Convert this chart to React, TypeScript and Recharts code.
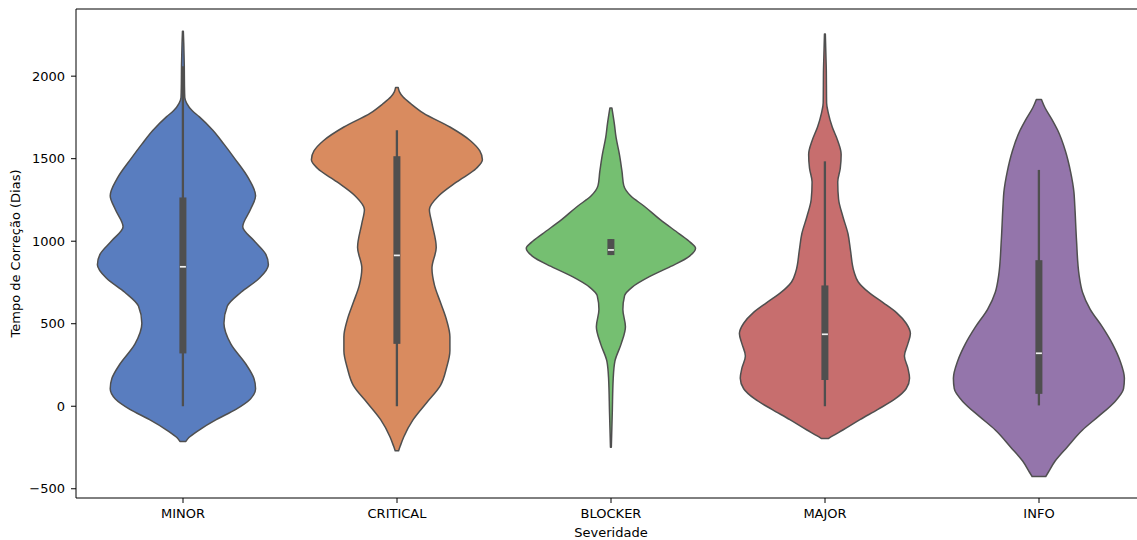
import { Bar, ComposedChart, ReferenceLine, XAxis, YAxis } from "recharts";

const categories = ["MINOR", "CRITICAL", "BLOCKER", "MAJOR", "INFO"];

// density outline of each violin, top to bottom: [days, half-width relative to 0.4 band]
const minorProfile: [number, number][] = [
  [2272, 0.005], [2200, 0.01], [2068, 0.016], [1950, 0.018], [1870, 0.022], [1835, 0.045],
  [1790, 0.11], [1755, 0.19], [1672, 0.35], [1588, 0.48], [1505, 0.6], [1379, 0.77], [1275, 0.85],
  [1192, 0.79], [1087, 0.7], [1004, 0.83], [920, 0.97], [858, 1.0], [774, 0.89],
  [691, 0.68], [607, 0.52], [503, 0.48], [378, 0.56], [253, 0.74], [169, 0.83],
  [106, 0.85], [44, 0.79], [-19, 0.62], [-81, 0.39], [-144, 0.19], [-190, 0.07], [-213, 0.035],
];
const criticalProfile: [number, number][] = [
  [1932, 0.015], [1905, 0.03], [1875, 0.07], [1830, 0.17], [1776, 0.31], [1692, 0.62],
  [1609, 0.86], [1547, 0.97], [1494, 1.0], [1442, 0.93], [1359, 0.7], [1275, 0.49],
  [1192, 0.38], [1108, 0.41], [962, 0.46], [837, 0.41], [732, 0.44], [628, 0.51],
  [524, 0.58], [420, 0.62], [336, 0.62], [232, 0.58], [127, 0.51], [23, 0.35],
  [-81, 0.19], [-186, 0.08], [-240, 0.04], [-270, 0.02],
];
const blockerProfile: [number, number][] = [
  [1807, 0.012], [1713, 0.04], [1630, 0.06], [1525, 0.1], [1421, 0.13], [1338, 0.15],
  [1275, 0.23], [1212, 0.39], [1129, 0.58], [1045, 0.8], [993, 0.93], [958, 0.99],
  [910, 0.92], [847, 0.7], [785, 0.45], [722, 0.25], [670, 0.16], [586, 0.14],
  [482, 0.17], [378, 0.12], [273, 0.047], [169, 0.027], [-40, 0.016], [-248, 0.005],
];
const majorProfile: [number, number][] = [
  [2256, 0.005], [2047, 0.016], [1838, 0.02], [1776, 0.04], [1692, 0.086], [1609, 0.15],
  [1526, 0.19], [1442, 0.18], [1359, 0.15], [1254, 0.16], [1150, 0.21], [1045, 0.27],
  [941, 0.3], [816, 0.34], [753, 0.39], [691, 0.51], [628, 0.68], [566, 0.84],
  [503, 0.95], [440, 1.0], [378, 0.97], [305, 0.93], [232, 0.97], [169, 0.99],
  [106, 0.95], [44, 0.82], [-19, 0.62], [-81, 0.41], [-144, 0.21], [-180, 0.09], [-196, 0.04],
];
const infoProfile: [number, number][] = [
  [1859, 0.03], [1810, 0.07], [1740, 0.15], [1672, 0.22], [1547, 0.31], [1422, 0.37],
  [1296, 0.41], [1213, 0.42], [1004, 0.44], [795, 0.47], [691, 0.51], [587, 0.6],
  [482, 0.74], [378, 0.86], [274, 0.95], [169, 1.0], [106, 0.99], [23, 0.88],
  [-60, 0.7], [-144, 0.51], [-248, 0.33], [-332, 0.19], [-400, 0.11], [-426, 0.08],
];

// inner box statistics per category
const q1Values = [320, 378, 916, 159, 75];
const medianValues = [845, 914, 947, 436, 321];
const q3Values = [1265, 1515, 1013, 732, 885];
const whiskerLow = [0, 0, 916, 0, 5];
const whiskerHigh = [2060, 1672, 1013, 1484, 1432];

const yTicks = [-500, 0, 500, 1000, 1500, 2000];
const yMin = -556;
const yMax = 2407;

const palette = ["#597dbf", "#d98b5f", "#75bf71", "#c76e6e", "#9475ab"];
const lineColor = "#4f4f4f";
const font = "DejaVu Sans, sans-serif";

const profiles = [minorProfile, criticalProfile, blockerProfile, majorProfile, infoProfile];

const data = categories.map((name, i) => {
  const p = profiles[i];
  return {
    name,
    extent: [p[p.length - 1][0], p[0][0]],
    profile: p,
    q1: q1Values[i],
    median: medianValues[i],
    q3: q3Values[i],
    lo: whiskerLow[i],
    hi: whiskerHigh[i],
    fill: palette[i],
  };
});

// monotone cubic tangents of x as a function of y (y increasing)
function slopes(ys: number[], xs: number[]) {
  const n = ys.length;
  const s: number[] = [];
  for (let k = 0; k < n - 1; k++) s.push((xs[k + 1] - xs[k]) / (ys[k + 1] - ys[k]));
  const m = new Array(n).fill(0);
  for (let k = 1; k < n - 1; k++) {
    const h0 = ys[k] - ys[k - 1];
    const h1 = ys[k + 1] - ys[k];
    const p = (s[k - 1] * h1 + s[k] * h0) / (h0 + h1);
    m[k] =
      (Math.sign(s[k - 1]) + Math.sign(s[k])) *
        Math.min(Math.abs(s[k - 1]), Math.abs(s[k]), 0.5 * Math.abs(p)) || 0;
  }
  m[0] = (3 * s[0] - m[1]) / 2;
  m[n - 1] = (3 * s[n - 2] - m[n - 2]) / 2;
  return m;
}

// one side of the violin as bezier segments, walking top -> bottom or bottom -> top
function sidePath(ys: number[], xs: number[], reverse: boolean) {
  const m = slopes(ys, xs);
  const n = ys.length;
  let d = "";
  if (!reverse) {
    for (let k = 0; k < n - 1; k++) {
      const h = ys[k + 1] - ys[k];
      d += `C${xs[k] + (m[k] * h) / 3},${ys[k] + h / 3},${xs[k + 1] - (m[k + 1] * h) / 3},${ys[k + 1] - h / 3},${xs[k + 1]},${ys[k + 1]}`;
    }
  } else {
    for (let k = n - 1; k > 0; k--) {
      const h = ys[k] - ys[k - 1];
      d += `C${xs[k] - (m[k] * h) / 3},${ys[k] - h / 3},${xs[k - 1] + (m[k - 1] * h) / 3},${ys[k - 1] + h / 3},${xs[k - 1]},${ys[k - 1]}`;
    }
  }
  return d;
}

function ViolinShape(props: any) {
  const { x, y, width, height, payload } = props;
  const [lo, hi] = payload.extent;
  const top = Math.min(y, y + height);
  const span = Math.abs(height);
  const toY = (v: number) => top + ((hi - v) / (hi - lo)) * span;
  const cx = x + width / 2;
  const half = width / 2;
  const prof: [number, number][] = payload.profile;
  const ys = prof.map(([v]) => toY(v));
  const xr = prof.map(([, w]) => cx + w * half);
  const xl = prof.map(([, w]) => cx - w * half);
  const n = ys.length;
  const d =
    `M${xr[0]},${ys[0]}` +
    sidePath(ys, xr, false) +
    `L${xl[n - 1]},${ys[n - 1]}` +
    sidePath(ys, xl, true) +
    "Z";
  const boxW = 7;
  return (
    <g>
      <path d={d} fill={payload.fill} stroke={lineColor} strokeWidth={1.5} strokeLinejoin="round" />
      <line x1={cx} x2={cx} y1={toY(payload.lo)} y2={toY(payload.hi)} stroke={lineColor} strokeWidth={2.3} />
      <rect
        x={cx - boxW / 2}
        y={toY(payload.q3)}
        width={boxW}
        height={toY(payload.q1) - toY(payload.q3)}
        fill={lineColor}
      />
      <line
        x1={cx - 3}
        x2={cx + 3}
        y1={toY(payload.median)}
        y2={toY(payload.median)}
        stroke="#f0f0f0"
        strokeWidth={1.7}
      />
    </g>
  );
}

const fmt = (v: number) => (v < 0 ? `\u2212${-v}` : `${v}`);

export default function App() {
  return (
    <div style={{ position: "absolute", left: 0, top: 0, width: 1137, height: 540, overflow: "hidden", background: "#fff" }}>
      <ComposedChart
        width={1160}
        height={540}
        data={data}
        margin={{ top: 9, right: 14, bottom: 12, left: 16 }}
        barCategoryGap="10%"
      >
        <XAxis
          dataKey="name"
          type="category"
          interval={0}
          height={30}
          stroke="#000"
          tickSize={5}
          tickMargin={6}
          tick={{ fill: "#000", fontSize: 13, fontFamily: font }}
          label={({ viewBox }: any) => (
            <text
              x={viewBox.x + viewBox.width / 2}
              y={537}
              textAnchor="middle"
              fill="#000"
              fontSize={13}
              fontFamily={font}
            >
              Severidade
            </text>
          )}
        />
        <YAxis
          type="number"
          domain={[yMin, yMax]}
          allowDataOverflow
          ticks={yTicks}
          tickFormatter={fmt}
          width={60}
          stroke="#000"
          tickSize={5}
          tickMargin={6}
          tick={{ fill: "#000", fontSize: 13, fontFamily: font }}
          label={({ viewBox }: any) => {
            const cy = viewBox.y + viewBox.height / 2;
            return (
              <text
                x={20}
                y={cy}
                transform={`rotate(-90 20 ${cy})`}
                textAnchor="middle"
                fill="#000"
                fontSize={13}
                fontFamily={font}
              >
                Tempo de Correção (Dias)
              </text>
            );
          }}
        />
        <ReferenceLine y={yMax} stroke="#000" strokeWidth={1} />
        <Bar dataKey="extent" isAnimationActive={false} shape={ViolinShape} />
      </ComposedChart>
    </div>
  );
}
